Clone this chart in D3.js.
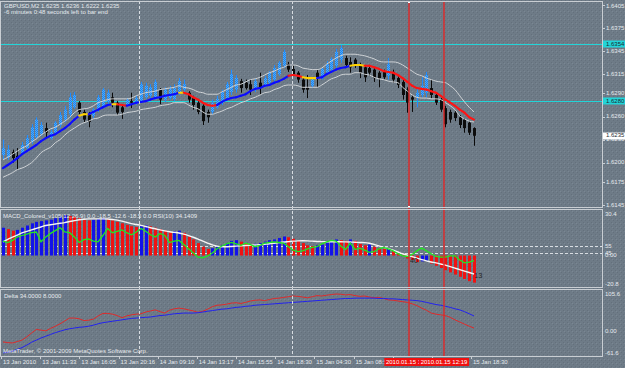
<!DOCTYPE html>
<html>
<head>
<meta charset="utf-8">
<script src="https://cdn.jsdelivr.net/npm/d3@7"></script>
<style>
body { margin: 0; background: #6f7c88; }
svg { display: block; }
text { font-family: "Liberation Sans", Arial, sans-serif; font-size: 6px; fill: #e6eaee; }
</style>
</head>
<body>
<div id="chart"></div>
<script>
// GBPUSD M2 bars (100 bars, oldest first)
let opens = [1.6210,1.6207,1.6214,1.6209,1.6213,1.6219,1.6227,1.6233,1.6237,1.6245,
1.6232,1.6239,1.6249,1.6256,1.6263,1.6272,1.6278,1.6266,1.6262,1.6261,
1.6269,1.6272,1.6279,1.6285,1.6278,1.6272,1.6275,1.6280,1.6278,1.6280,
1.6285,1.6287,1.6284,1.6295,1.6282,1.6284,1.6283,1.6291,1.6295,1.6291,
1.6284,1.6278,1.6274,1.6266,1.6266,1.6272,1.6278,1.6284,1.6292,1.6295,
1.6306,1.6304,1.6302,1.6295,1.6304,1.6300,1.6304,1.6308,1.6315,1.6326,
1.6328,1.6322,1.6317,1.6308,1.6298,1.6300,1.6317,1.6310,1.6317,1.6321,
1.6326,1.6334,1.6336,1.6331,1.6334,1.6327,1.6324,1.6323,1.6321,1.6317,
1.6318,1.6313,1.6318,1.6310,1.6305,1.6295,1.6285,1.6285,1.6288,1.6291,
1.6297,1.6288,1.6282,1.6271,1.6266,1.6265,1.6259,1.6256,1.6252,1.6245]
let highs = [1.6230,1.6223,1.6217,1.6219,1.6227,1.6236,1.6250,1.6259,1.6253,1.6252,
1.6243,1.6254,1.6266,1.6274,1.6291,1.6292,1.6280,1.6269,1.6266,1.6271,
1.6288,1.6297,1.6295,1.6291,1.6280,1.6276,1.6284,1.6291,1.6287,1.6305,
1.6304,1.6302,1.6308,1.6297,1.6298,1.6300,1.6302,1.6310,1.6308,1.6293,
1.6287,1.6280,1.6276,1.6269,1.6282,1.6287,1.6295,1.6305,1.6321,1.6314,
1.6309,1.6308,1.6308,1.6309,1.6317,1.6313,1.6319,1.6327,1.6332,1.6347,
1.6331,1.6326,1.6319,1.6310,1.6314,1.6311,1.6321,1.6324,1.6332,1.6337,
1.6348,1.6353,1.6339,1.6337,1.6336,1.6330,1.6327,1.6326,1.6323,1.6319,
1.6321,1.6336,1.6321,1.6313,1.6308,1.6298,1.6288,1.6297,1.6311,1.6318,
1.6308,1.6291,1.6284,1.6274,1.6269,1.6267,1.6262,1.6258,1.6254,1.6246]
let lows = [1.6204,1.6204,1.6200,1.6191,1.6210,1.6217,1.6224,1.6231,1.6235,1.6232,
1.6230,1.6237,1.6246,1.6253,1.6258,1.6270,1.6263,1.6252,1.6246,1.6258,
1.6266,1.6271,1.6276,1.6272,1.6262,1.6257,1.6272,1.6271,1.6275,1.6278,
1.6283,1.6284,1.6282,1.6276,1.6279,1.6282,1.6280,1.6288,1.6292,1.6278,
1.6269,1.6263,1.6249,1.6252,1.6263,1.6270,1.6275,1.6282,1.6288,1.6291,
1.6291,1.6295,1.6288,1.6292,1.6288,1.6298,1.6301,1.6305,1.6313,1.6323,
1.6318,1.6314,1.6304,1.6291,1.6284,1.6297,1.6298,1.6308,1.6314,1.6319,
1.6323,1.6330,1.6324,1.6317,1.6323,1.6310,1.6305,1.6313,1.6305,1.6298,
1.6308,1.6308,1.6304,1.6297,1.6282,1.6265,1.6266,1.6272,1.6285,1.6285,
1.6284,1.6275,1.6266,1.6246,1.6252,1.6254,1.6245,1.6239,1.6236,1.6222]
let closes = [1.6219,1.6217,1.6206,1.6205,1.6223,1.6232,1.6246,1.6256,1.6249,1.6239,
1.6240,1.6252,1.6262,1.6269,1.6285,1.6288,1.6266,1.6256,1.6253,1.6269,
1.6285,1.6295,1.6291,1.6278,1.6265,1.6266,1.6282,1.6278,1.6284,1.6302,
1.6300,1.6298,1.6305,1.6282,1.6295,1.6296,1.6297,1.6306,1.6302,1.6282,
1.6275,1.6266,1.6254,1.6259,1.6278,1.6283,1.6292,1.6302,1.6315,1.6310,
1.6297,1.6297,1.6295,1.6306,1.6298,1.6310,1.6317,1.6323,1.6330,1.6344,
1.6321,1.6315,1.6308,1.6295,1.6295,1.6309,1.6310,1.6322,1.6328,1.6335,
1.6344,1.6349,1.6327,1.6324,1.6327,1.6317,1.6311,1.6317,1.6310,1.6310,
1.6311,1.6328,1.6308,1.6301,1.6288,1.6278,1.6282,1.6291,1.6300,1.6314,
1.6288,1.6278,1.6269,1.6250,1.6256,1.6258,1.6249,1.6245,1.6239,1.6235]

// trend moving average and its envelope
let maLine = [1.6193,1.6197,1.6201,1.6206,1.6211,1.6215,1.6219,1.6223,1.6228,1.6232,
1.6235,1.6237,1.6241,1.6245,1.6250,1.6256,1.6261,1.6263,1.6263,1.6266,
1.6269,1.6272,1.6275,1.6276,1.6276,1.6275,1.6274,1.6276,1.6278,1.6279,
1.6280,1.6282,1.6284,1.6285,1.6287,1.6288,1.6289,1.6291,1.6291,1.6289,
1.6285,1.6282,1.6278,1.6275,1.6274,1.6275,1.6279,1.6282,1.6284,1.6285,
1.6287,1.6289,1.6293,1.6296,1.6297,1.6300,1.6301,1.6304,1.6306,1.6309,
1.6313,1.6314,1.6313,1.6311,1.6310,1.6310,1.6310,1.6311,1.6315,1.6318,
1.6321,1.6323,1.6324,1.6326,1.6327,1.6327,1.6326,1.6326,1.6324,1.6322,
1.6319,1.6318,1.6317,1.6314,1.6310,1.6305,1.6300,1.6297,1.6296,1.6295,
1.6293,1.6291,1.6287,1.6282,1.6278,1.6274,1.6269,1.6265,1.6259,1.6256]
let maTrend = ('u'.repeat(17) + 'ff' + 'uuuuu' + 'f' + 'dd' + 'u'.repeat(11) + 'f' + 'd'.repeat(7) +
  'u'.repeat(15) + 'ddd' + 'fff' + 'u'.repeat(7) + 'fff' + 'd'.repeat(23)).split('')
let bandUp = [1.6204,1.6207,1.6211,1.6215,1.6219,1.6222,1.6227,1.6231,1.6236,1.6240,
1.6244,1.6246,1.6250,1.6254,1.6259,1.6265,1.6269,1.6270,1.6271,1.6274,
1.6278,1.6280,1.6282,1.6283,1.6283,1.6283,1.6283,1.6284,1.6287,1.6289,
1.6291,1.6292,1.6293,1.6295,1.6296,1.6297,1.6298,1.6300,1.6298,1.6297,
1.6295,1.6292,1.6291,1.6289,1.6289,1.6289,1.6292,1.6295,1.6298,1.6301,
1.6302,1.6305,1.6308,1.6309,1.6311,1.6314,1.6317,1.6319,1.6322,1.6324,
1.6327,1.6327,1.6326,1.6323,1.6322,1.6321,1.6321,1.6323,1.6328,1.6332,
1.6336,1.6339,1.6341,1.6341,1.6341,1.6340,1.6339,1.6337,1.6335,1.6332,
1.6331,1.6331,1.6331,1.6330,1.6327,1.6323,1.6319,1.6315,1.6313,1.6310,
1.6308,1.6306,1.6305,1.6304,1.6300,1.6295,1.6287,1.6279,1.6272,1.6266]
let bandDown = [1.6181,1.6184,1.6187,1.6191,1.6193,1.6196,1.6200,1.6206,1.6213,1.6217,
1.6220,1.6226,1.6230,1.6236,1.6241,1.6245,1.6249,1.6252,1.6254,1.6257,
1.6258,1.6261,1.6262,1.6262,1.6262,1.6263,1.6265,1.6266,1.6267,1.6269,
1.6270,1.6271,1.6272,1.6274,1.6275,1.6276,1.6278,1.6278,1.6278,1.6275,
1.6272,1.6270,1.6266,1.6263,1.6263,1.6265,1.6267,1.6270,1.6272,1.6275,
1.6278,1.6280,1.6283,1.6285,1.6288,1.6291,1.6292,1.6295,1.6297,1.6300,
1.6301,1.6301,1.6300,1.6298,1.6298,1.6298,1.6298,1.6301,1.6305,1.6309,
1.6311,1.6314,1.6315,1.6315,1.6317,1.6317,1.6315,1.6314,1.6311,1.6309,
1.6308,1.6306,1.6305,1.6304,1.6298,1.6293,1.6288,1.6285,1.6284,1.6284,
1.6283,1.6283,1.6282,1.6278,1.6274,1.6269,1.6261,1.6257,1.6254,1.6253]
let hLines = [1.6354, 1.6280]
let bidPrice = 1.6235

// MACD_Colored(12,26,9) main, signal, RSI(10)
let macdMain = [19,18,17,17.5,19,20.5,22,23,23.5,24,
24.5,25.5,26.5,27.5,27,26.5,25.5,24.5,24,24.5,
25,25.5,25,24,23,22,21,20,19.5,20,
20.5,20,19,18,17,16,16.5,17,15.5,13,
11,8.5,6,4.5,5,6,7,8.5,10,10.5,
9.5,8.5,7.5,8,8.5,9.5,10.5,11,12,13,
12.5,11.5,10,8.5,7,6.5,7,7.5,9,10,
11,10.5,10,11,10,8,7,7.5,6,5,
4.5,5,3,1.5,0.5,-2,-3,-4.5,-4,-3.5,
-5.5,-7,-8.5,-10,-11.5,-13,-14.5,-16,-17.5,-18.5]
let macdSignal = [9.4,11,12.5,14,15.5,16.5,17.5,18.5,19.5,20.5,
21,21.5,22,22.5,23.2,23.8,24.4,24.8,25,25,
25,25,24.9,24.6,24.2,23.5,22.6,21.8,21.2,20.6,
19.8,19,18.3,17.5,16.8,16.2,15.8,15.4,14.6,13.6,
12.5,11.2,9.8,8.5,7.3,6.4,6,6,6.2,6.4,
6.6,6.8,7,7.2,7.4,7.7,8,8.4,8.8,9.2,
9.5,9.8,10,10.1,10,9.8,9.6,9.5,9.4,9.4,
9.4,9.4,9.3,9.2,9.1,8.9,8.8,8.4,7.6,6.6,
5.6,4.7,3.6,2.4,1.2,0.2,-0.8,-1.8,-2.8,-3.6,
-4.4,-5,-5.8,-6.6,-7.6,-8.6,-9.6,-10.6,-11.6,-12.6]
let rsi = [62,60,63,68,70,72,74,75,61,68,
73,77,81,75,74,68,60,64,65,62,
61,70,80,74,76,78,74,71,75,80,
76,71,68,73,70,60,62,63,57,51,
45,39,38,41,45,51,55,58,60,58,
56,59,57,54,56,59,60,61,60,59,
54,49,47,48,51,53,54,58,61,63,
62,55,50,59,50,52,49,46,47,51,
53,51,48,44,41,40,43,48,52,48,
44,40,39,39,41,41,35,31,32,34.1]
let rsiLevels = [55, 45]

// Delta(34,8)
let deltaRed = [-29,-31,-32,-28,-24,-15,-4,6,4,2,
9,15,22,30,38,38,36,31,32,35,
44,51,51,49,45,39,44,47,49,50,
55,58,61,56,52,60,64,66,64,61,
58,54,57,63,70,74,75,77,80,81,
79,82,86,88,89,87,90,93,94,96,
98,100,99,97,95,98,101,100,102,104,
105.6,105,103,104,101,99,100,97,95,96,
93,89,88,86,84,82,78,73,66,60,
52,49,47,45,40,33,27,21,15,10]
let deltaBlue = [-60,-58,-55,-50,-45,-38,-30,-24,-18,-13,
-8,-3,1,5,8,10,12,13,15,18,
22,25,27,29,31,33,35,37,38,39,
40,41,43,45,46,48,50,51,52,52,
52,53,55,57,59,61,63,64,66,68,
69,71,72,74,75,76,77,78,79,80,
81,82,83,84,85,86,87,88,89,90,
91,92,93,93,94,94,94,94,94,93,
93,92,92,91,90,89,88,87,85,82,
79,76,74,71,68,64,61,56,50,44]

let priceTicks = [1.6405, 1.6375, 1.6345, 1.6315, 1.6290, 1.6260, 1.6230, 1.6200, 1.6175, 1.6145]
let macdTicks = [['30.4', 30.4], ['0.00', 0], ['-20.8', -20.8]]
let deltaTicks = [['105.6', 105.6], ['0.00', 0], ['-61.6', -61.6]]
let timeLabels = ['13 Jan 2010', '13 Jan 11:33', '13 Jan 16:05', '13 Jan 20:16', '14 Jan 09:10', '14 Jan 13:17',
  '14 Jan 15:55', '14 Jan 18:30', '15 Jan 04:30', '15 Jan 08:55', '', '', '15 Jan 18:30']
let daySeparators = [28.6, 60.7]
let redLines = [{bar: 85.4, label: '2010.01.15 10:21'}, {bar: 92.7, label: '2010.01.15 12:19'}]

let width = 625, height = 368
let right = 602
let panels = {main: [1, 207], macd: [209, 287], delta: [289, 356]}

let svg = d3.select('#chart')
.append('svg')
.attr('width', width)
.attr('height', height)

let defs = svg.append('defs')

let bg = defs.append('pattern')
.attr('id', 'noise')
.attr('width', 4).attr('height', 4)
.attr('patternUnits', 'userSpaceOnUse')
bg.append('rect').attr('width', 4).attr('height', 4).attr('fill', '#6e7b87')
bg.append('rect').attr('x', 1).attr('y', 0).attr('width', 1).attr('height', 1).attr('fill', '#64707c')
bg.append('rect').attr('x', 3).attr('y', 2).attr('width', 1).attr('height', 1).attr('fill', '#64707c')
bg.append('rect').attr('x', 0).attr('y', 3).attr('width', 1).attr('height', 1).attr('fill', '#7a8793')

let bull = defs.append('pattern')
.attr('id', 'bull')
.attr('width', 2).attr('height', 2)
.attr('patternUnits', 'userSpaceOnUse')
bull.append('rect').attr('width', 2).attr('height', 2).attr('fill', '#52a8f8')
bull.append('rect').attr('width', 1).attr('height', 1).attr('fill', '#1b86f0')
bull.append('rect').attr('x', 1).attr('y', 1).attr('width', 1).attr('height', 1).attr('fill', '#1b86f0')

Object.entries(panels).forEach(([k, p]) => {
  defs.append('clipPath').attr('id', 'clip-' + k)
  .append('rect').attr('x', 0).attr('y', p[0]).attr('width', right).attr('height', p[1] - p[0])
})

svg.append('rect').attr('width', width).attr('height', height).attr('fill', 'url(#noise)')

let x = d3.scaleLinear().domain([0, opens.length - 1]).range([3, 474])
let yPrice = d3.scaleLinear().domain([1.6145, 1.6405]).range([205, 5])
let yMacd = d3.scaleLinear().domain([-20.8, 30.4]).range([286, 211])
let yRsi = d3.scaleLinear().domain([0, 100]).range([284.5, 214.5])
let yDelta = d3.scaleLinear().domain([-61.6, 105.6]).range([353.5, 294])
let xTime = d3.scaleLinear().domain([0, timeLabels.length - 1]).range([1, 471])

let main = svg.append('g').attr('clip-path', 'url(#clip-main)')
let macdG = svg.append('g').attr('clip-path', 'url(#clip-macd)')
let deltaG = svg.append('g').attr('clip-path', 'url(#clip-delta)')

// horizontal lines
main.selectAll('.hline')
.data(hLines)
.join('line')
.attr('x1', 0).attr('x2', right)
.attr('y1', d => Math.round(yPrice(d)) + 0.5)
.attr('y2', d => Math.round(yPrice(d)) + 0.5)
.style('stroke', '#22d4d8')
.style('stroke-width', 1)

// period separators
svg.selectAll('.sep')
.data(daySeparators)
.join('line')
.attr('x1', d => Math.round(x(d)) + 0.5).attr('x2', d => Math.round(x(d)) + 0.5)
.attr('y1', panels.main[0]).attr('y2', panels.delta[1])
.style('stroke', '#d8dde2')
.style('stroke-dasharray', '3,2')
.style('stroke-width', 1)

// candles
let idx = d3.range(opens.length)
let candles = main.append('g')
.selectAll('g')
.data(idx)
.join('g')

candles.append('line')
.attr('x1', i => Math.round(x(i)) + 0.5).attr('x2', i => Math.round(x(i)) + 0.5)
.attr('y1', i => yPrice(highs[i])).attr('y2', i => yPrice(lows[i]))
.style('stroke', i => closes[i] > opens[i] ? '#1e8cff' : '#0a0a0a')
.style('stroke-width', 1)

candles.append('rect')
.attr('x', i => Math.round(x(i)) - 1)
.attr('width', 3)
.attr('y', i => yPrice(Math.max(opens[i], closes[i])))
.attr('height', i => Math.max(1, Math.abs(yPrice(opens[i]) - yPrice(closes[i]))))
.attr('fill', i => closes[i] > opens[i] ? 'url(#bull)' : '#0c0c0c')

// envelope
let priceLine = d3.line().x((d, i) => x(i)).y(d => yPrice(d)).curve(d3.curveMonotoneX)
main.selectAll('.band')
.data([bandUp, bandDown])
.join('path')
.attr('d', priceLine)
.attr('fill', 'none')
.style('stroke', '#cfd3d6')
.style('stroke-width', 1)

// coloured MA
let trendColor = {u: '#0c0cff', d: '#ff1414', f: '#ffd200'}
main.selectAll('.ma')
.data(idx.slice(1))
.join('path')
.attr('d', i => d3.line()([[x(i - 1), yPrice(maLine[i - 1])], [x(i), yPrice(maLine[i])]]))
.attr('fill', 'none')
.style('stroke', i => trendColor[maTrend[i]])
.style('stroke-width', 2.1)
.style('stroke-linecap', 'round')

// MACD panel
macdG.selectAll('.lvl')
.data(rsiLevels)
.join('line')
.attr('x1', 0).attr('x2', right)
.attr('y1', d => Math.round(yRsi(d)) + 0.5).attr('y2', d => Math.round(yRsi(d)) + 0.5)
.style('stroke', '#d8dde2')
.style('stroke-dasharray', '3,2')

macdG.selectAll('.hist')
.data(idx)
.join('rect')
.attr('x', i => Math.round(x(i)) - 1)
.attr('width', 3)
.attr('y', i => Math.min(yMacd(0), yMacd(macdMain[i])))
.attr('height', i => Math.abs(yMacd(macdMain[i]) - yMacd(0)))
.attr('fill', i => (i == 0 || macdMain[i] >= macdMain[i - 1]) ? '#1212ea' : '#f01212')

macdG.append('path')
.attr('d', d3.line().x((d, i) => x(i)).y(d => yMacd(d)).curve(d3.curveMonotoneX)(macdSignal))
.attr('fill', 'none')
.style('stroke', '#f4f4f4')
.style('stroke-width', 1.4)

macdG.append('path')
.attr('d', d3.line().x((d, i) => x(i)).y(d => yRsi(d))(rsi))
.attr('fill', 'none')
.style('stroke', '#22e622')
.style('stroke-width', 1.3)

macdG.append('text').attr('x', 410).attr('y', 263).text('40')
.style('fill', '#262626').style('font-size', '7px')
macdG.append('text').attr('x', 474).attr('y', 278).text('13')
.style('fill', '#262626').style('font-size', '7.5px')

// Delta panel
let deltaLine = d3.line().x((d, i) => x(i)).y(d => yDelta(d))
deltaG.append('path')
.attr('d', deltaLine(deltaRed))
.attr('fill', 'none')
.style('stroke', '#e02a2a')
.style('stroke-width', 1)
deltaG.append('path')
.attr('d', deltaLine(deltaBlue))
.attr('fill', 'none')
.style('stroke', '#2222f0')
.style('stroke-width', 1)

// vertical line objects
svg.selectAll('.vline')
.data(redLines)
.join('line')
.attr('x1', d => Math.round(x(d.bar))).attr('x2', d => Math.round(x(d.bar)))
.attr('y1', panels.main[0]).attr('y2', panels.delta[1])
.style('stroke', '#e02828')
.style('stroke-width', 1.4)

svg.selectAll('.vmark')
.data([panels.main[0], panels.main[1] - 1])
.join('rect')
.attr('x', Math.round(x(redLines[0].bar)) - 1)
.attr('y', d => d)
.attr('width', 2).attr('height', 2)
.attr('fill', '#ffffff')

// panel frames
Object.values(panels).forEach(p => {
  svg.append('rect')
  .attr('x', 0.5).attr('y', p[0] + 0.5)
  .attr('width', right).attr('height', p[1] - p[0])
  .attr('fill', 'none')
  .style('stroke', '#c9ced3')
  .style('stroke-width', 1)
})

// price axis
svg.selectAll('.ptick')
.data(priceTicks)
.join('text')
.attr('x', 606)
.attr('y', d => Math.max(yPrice(d), panels.main[0] + 5))
.attr('dominant-baseline', 'middle')
.text(d => d.toFixed(4))

svg.selectAll('.pdash')
.data(priceTicks)
.join('line')
.attr('x1', right + 1).attr('x2', right + 3)
.attr('y1', d => Math.round(yPrice(d)) + 0.5).attr('y2', d => Math.round(yPrice(d)) + 0.5)
.style('stroke', '#c9ced3')

function priceBox(v, fill) {
  let y = yPrice(v)
  svg.append('rect')
  .attr('x', right + 1).attr('y', Math.round(y) - 3.5)
  .attr('width', 22).attr('height', 7)
  .attr('fill', fill)
  svg.append('text')
  .attr('x', 606).attr('y', y)
  .attr('dominant-baseline', 'middle')
  .style('fill', '#1d2a30')
  .text(v.toFixed(4))
}
hLines.forEach(v => priceBox(v, '#22d4d8'))
priceBox(bidPrice, '#ffffff')

function sideLabels(ticks, scale, p) {
  svg.append('g')
  .selectAll('text')
  .data(ticks)
  .join('text')
  .attr('x', 605)
  .attr('y', d => Math.min(Math.max(scale(d[1]), p[0] + 5), p[1] - 3))
  .attr('dominant-baseline', 'middle')
  .text(d => d[0])
}
sideLabels(macdTicks, yMacd, panels.macd)
sideLabels(rsiLevels.map(d => [String(d), d]), yRsi, panels.macd)
sideLabels(deltaTicks, yDelta, panels.delta)

// time axis
svg.selectAll('.ttick')
.data(timeLabels)
.join('line')
.attr('x1', (d, i) => Math.round(xTime(i)) + 0.5).attr('x2', (d, i) => Math.round(xTime(i)) + 0.5)
.attr('y1', panels.delta[1]).attr('y2', panels.delta[1] + 3)
.style('stroke', '#c9ced3')

svg.selectAll('.tlabel')
.data(timeLabels)
.join('text')
.attr('x', (d, i) => xTime(i) + 2)
.attr('y', 364)
.text(d => d)

redLines.forEach(d => {
  let cx = x(d.bar)
  svg.append('rect')
  .attr('x', cx - 25).attr('y', 358)
  .attr('width', 50).attr('height', 8)
  .attr('fill', '#f01010')
  svg.append('text')
  .attr('x', cx).attr('y', 364)
  .attr('text-anchor', 'middle')
  .style('fill', '#ffffff')
  .text(d.label)
})

// titles
svg.append('text').attr('x', 4).attr('y', 7.5).text('GBPUSD,M2  1.6235 1.6236 1.6222 1.6235')
svg.append('text').attr('x', 4).attr('y', 13.5).text('-6 minutes 0:48 seconds left to bar end')
svg.append('text').attr('x', 3).attr('y', 218).text('MACD_Colored_v105(12,26,9) 0.0 -18.5 -12.6 -18.5 0.0  RSI(10) 34.1409')
svg.append('text').attr('x', 4).attr('y', 298).text('Delta 34.0000 8.0000')
svg.append('text').attr('x', 3).attr('y', 353).text('MetaTrader, \u00a9 2001-2009 MetaQuotes Software Corp.')
</script>
</body>
</html>
